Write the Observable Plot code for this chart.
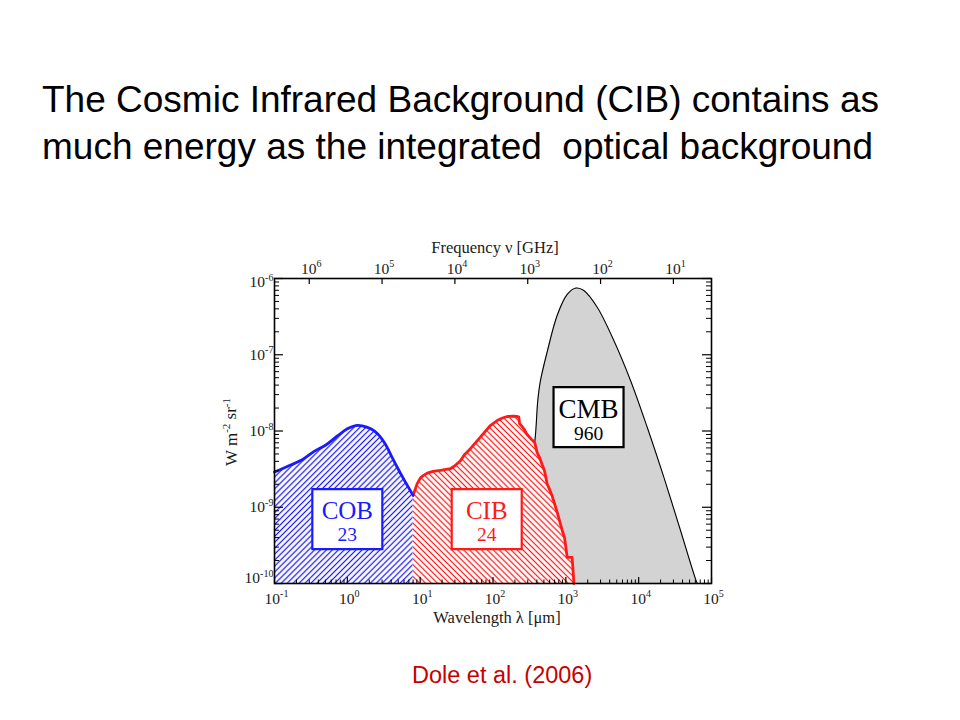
<!DOCTYPE html>
<html><head><meta charset="utf-8">
<script src="https://cdn.jsdelivr.net/npm/d3@7"></script>
<script src="https://cdn.jsdelivr.net/npm/@observablehq/plot@0.6"></script>
<style>
body{margin:0;background:#fff;}
#page{position:relative;width:960px;height:720px;overflow:hidden;background:#fff;}
#title{position:absolute;left:42px;top:76px;font-family:"Liberation Sans",Arial,sans-serif;font-size:37px;line-height:47px;color:#000;white-space:nowrap;}
#chart{position:absolute;left:0;top:220px;}
#caption{position:absolute;left:412px;top:664px;font-family:"Liberation Sans",Arial,sans-serif;font-size:23.5px;line-height:1;color:#c80000;white-space:nowrap;}
</style></head><body>
<div id="page">
<div id="title">The Cosmic Infrared Background (CIB) contains as<br>much energy as the integrated&nbsp; optical background</div>
<div id="chart"></div>
<div id="caption">Dole et al. (2006)</div>
</div>
<script>
// ---- data (wavelength in µm, νIν in W m^-2 sr^-1) ----
const cobWavelength = [0.1, 0.17, 0.25, 0.35, 0.5, 0.73, 1.0, 1.3, 1.6, 2.1, 2.6, 3.3, 3.9, 4.8, 6.0, 8.0];
const cobFlux = [2.9e-9, 3.6e-9, 4.3e-9, 5.4e-9, 6.5e-9, 8.6e-9, 1.07e-8, 1.18e-8, 1.17e-8, 1.07e-8, 9.2e-9, 6.8e-9, 5.0e-9, 3.4e-9, 2.3e-9, 1.43e-9];

const cibWavelength = [8.0, 8.6, 9.1, 10.1, 11, 12.5, 15, 19, 26, 30, 36, 40, 50, 67, 92, 114, 135, 157, 190, 215, 226, 232, 250, 265, 290, 310, 345, 375, 404, 440, 474, 510, 556, 600, 650, 750, 890, 960, 1045, 1100, 1220, 1250, 1290];
const cibFlux = [1.43e-9, 1.75e-9, 2.04e-9, 2.43e-9, 2.6e-9, 2.8e-9, 2.95e-9, 3.05e-9, 3.2e-9, 3.5e-9, 4.1e-9, 4.8e-9, 6.0e-9, 8.3e-9, 1.18e-8, 1.37e-8, 1.48e-8, 1.55e-8, 1.57e-8, 1.55e-8, 1.53e-8, 1.25e-8, 1.15e-8, 1.07e-8, 9.2e-9, 8.5e-9, 7.6e-9, 7.0e-9, 5.2e-9, 4.4e-9, 3.6e-9, 3.0e-9, 2.0e-9, 1.7e-9, 1.4e-9, 9e-10, 5.0e-10, 4.0e-10, 2.2e-10, 2.2e-10, 2.2e-10, 1.6e-10, 1.0e-10];

const cmbWavelength = [250, 300, 340, 384, 412, 449, 556, 762, 1045, 1380, 1767, 2697, 4560, 7730, 13100, 22150, 37550, 60300, 64000];
const cmbFlux = [1e-10, 8e-10, 3e-9, 9.2e-9, 2.5e-8, 4.6e-8, 1.1e-7, 3.3e-7, 6.2e-7, 7.5e-7, 6.97e-7, 4.2e-7, 1.54e-7, 4.6e-8, 1.12e-8, 2.48e-9, 4.95e-10, 1.15e-10, 1e-10];

const labelNames = ["COB", "CIB", "CMB"];
const labelEnergy = ["23", "24", "960"];
const labelWavelength = [1.0, 82, 2050];
const labelFlux = [7.0e-10, 7.0e-10, 1.52e-8];

const wavelengthTicks = [0.1, 1, 10, 100, 1e3, 1e4, 1e5];
const frequencyTicksGHz = [1e6, 1e5, 1e4, 1e3, 1e2, 1e1];
const fluxTicks = [1e-10, 1e-9, 1e-8, 1e-7, 1e-6];

const xTitle = "Wavelength \u03BB [\u03BCm]";
const topTitle = "Frequency \u03BD [GHz]";
const yTitle = "W m^-2 sr^-1";

// ---- styles ----
const colors = {COB: "#1a1aff", CIB: "#ff1a1a", CMB: "#000000"};
const serif = "'Liberation Serif', 'Times New Roman', serif";
const ink = "#1a1a1a";
const C_UM_GHZ = 299792.458; // λ[µm] = c / ν[GHz]

const cob = cobWavelength.map((w, i) => ({w, f: cobFlux[i]}));
const cib = cibWavelength.map((w, i) => ({w, f: cibFlux[i]}));
const cmb = cmbWavelength.map((w, i) => ({w, f: cmbFlux[i]}));
const labels = labelNames.map((n, i) => ({name: n, energy: labelEnergy[i], w: labelWavelength[i], f: labelFlux[i]}));

const minorOf = (majors) => {
  const out = [];
  for (let i = 0; i < majors.length - 1; i++) for (let k = 2; k <= 9; k++) out.push(majors[i] * k);
  return out;
};
const xMinor = minorOf(wavelengthTicks);
const yMinor = minorOf(fluxTicks);

const pow10 = (v) => "10^" + Math.round(Math.log10(v));

const W = 960, H = 420, mL = 274, mR = 249, mT = 58, mB = 57;
const frameW = W - mL - mR, frameH = H - mT - mB;
const yMin = 1e-10;

const boxSymbol = {draw(ctx) { ctx.rect(-35, -30, 70, 60); }};
const tickFont = 15.5;

const marks = [
  // CMB
  Plot.areaY(cmb, {x: "w", y1: yMin, y2: "f", fill: "#d3d3d3", curve: "catmull-rom", clip: true}),
  Plot.lineY(cmb, {x: "w", y: "f", stroke: "black", strokeWidth: 1.1, curve: "catmull-rom", clip: true}),
  // CIB
  Plot.areaY(cib, {x: "w", y1: yMin, y2: "f", fill: "white"}),
  Plot.areaY(cib, {x: "w", y1: yMin, y2: "f", fill: "url(#hatchRed)"}),
  Plot.lineY(cib, {x: "w", y: "f", stroke: colors.CIB, strokeWidth: 2.8, strokeLinejoin: "round"}),
  // COB
  Plot.areaY(cob, {x: "w", y1: yMin, y2: "f", fill: "white", curve: "catmull-rom"}),
  Plot.areaY(cob, {x: "w", y1: yMin, y2: "f", fill: "url(#hatchBlue)", curve: "catmull-rom"}),
  Plot.lineY(cob, {x: "w", y: "f", stroke: colors.COB, strokeWidth: 2.8, curve: "catmull-rom"}),
  // frame
  Plot.frame({stroke: "black", strokeWidth: 1.6}),
  // ticks (inward)
  Plot.ruleX(wavelengthTicks, {x: d => d, insetTop: frameH - 6, stroke: "black", strokeWidth: 1.2}),
  Plot.ruleX(xMinor, {x: d => d, insetTop: frameH - 3.5, stroke: "black", strokeWidth: 1}),
  Plot.ruleX(frequencyTicksGHz, {x: d => C_UM_GHZ / d, insetBottom: frameH - 6, stroke: "black", strokeWidth: 1.2}),
  Plot.ruleY(fluxTicks, {y: d => d, insetRight: frameW - 9, stroke: "black", strokeWidth: 1.2}),
  Plot.ruleY(yMinor, {y: d => d, insetRight: frameW - 5, stroke: "black", strokeWidth: 1}),
  Plot.ruleY(fluxTicks, {y: d => d, insetLeft: frameW - 9, stroke: "black", strokeWidth: 1.2}),
  Plot.ruleY(yMinor, {y: d => d, insetLeft: frameW - 5, stroke: "black", strokeWidth: 1}),
  // tick labels
  Plot.text(wavelengthTicks, {x: d => d, text: pow10, frameAnchor: "bottom", textAnchor: "middle", lineAnchor: "bottom", dy: 20, dx: 2, fontSize: tickFont, fill: ink}),
  Plot.text(frequencyTicksGHz, {x: d => C_UM_GHZ / d, text: pow10, frameAnchor: "top", textAnchor: "middle", lineAnchor: "bottom", dy: -5, dx: 2, fontSize: tickFont, fill: ink}),
  Plot.text(fluxTicks.slice(1, -1), {y: d => d, text: pow10, frameAnchor: "left", textAnchor: "end", lineAnchor: "middle", dx: -1, fontSize: tickFont, fill: ink}),
  Plot.text(fluxTicks.slice(0, 1), {y: d => d, text: pow10, frameAnchor: "left", textAnchor: "end", lineAnchor: "middle", dx: -1, dy: -5, fontSize: tickFont, fill: ink}),
  Plot.text(fluxTicks.slice(-1), {y: d => d, text: pow10, frameAnchor: "left", textAnchor: "end", lineAnchor: "middle", dx: -1, dy: 4, fontSize: tickFont, fill: ink}),
  // axis titles
  Plot.text([topTitle], {text: d => d, frameAnchor: "top", textAnchor: "middle", lineAnchor: "bottom", dy: -26, dx: 2, fontSize: 16.5, fill: ink}),
  Plot.text([xTitle], {text: d => d, frameAnchor: "bottom", textAnchor: "middle", lineAnchor: "bottom", dy: 39, dx: 4, fontSize: 16.5, fill: ink}),
  Plot.text([yTitle], {text: d => d, frameAnchor: "left", textAnchor: "middle", lineAnchor: "bottom", rotate: -90, dx: -38, dy: 1, fontSize: 17, fill: ink}),
];

labels.forEach(l => {
  const c = colors[l.name];
  const big = l.name === "CMB";
  marks.push(
    Plot.dot([l], {x: "w", y: "f", symbol: boxSymbol, r: 10, fill: "white", stroke: c, strokeWidth: 2.2}),
    Plot.text([l], {x: "w", y: "f", text: "name", fontSize: big ? 27 : 25, dy: big ? -8 : -8.4, fill: c}),
    Plot.text([l], {x: "w", y: "f", text: "energy", fontSize: 19.5, dy: big ? 16.7 : 16, fill: c})
  );
});

const chart = Plot.plot({
  width: W, height: H,
  marginLeft: mL, marginRight: mR, marginTop: mT, marginBottom: mB,
  x: {type: "log", domain: [0.1, 1e5], axis: null},
  y: {type: "log", domain: [1e-10, 1e-6], axis: null},
  style: {fontFamily: serif, background: "transparent", overflow: "visible"},
  marks
});

d3.select(chart).insert("defs", ":first-child").html(`
  <pattern id="hatchBlue" patternUnits="userSpaceOnUse" width="4.2" height="4.2" patternTransform="rotate(45)">
    <line x1="2.1" y1="-1" x2="2.1" y2="5.2" stroke="${colors.COB}" stroke-width="1.25"/>
  </pattern>
  <pattern id="hatchRed" patternUnits="userSpaceOnUse" width="4.2" height="4.2" patternTransform="rotate(-45)">
    <line x1="2.1" y1="-1" x2="2.1" y2="5.2" stroke="${colors.CIB}" stroke-width="1.25"/>
  </pattern>`);

// turn "^exp" into real superscript tspans
const SVGNS = "http://www.w3.org/2000/svg";
d3.select(chart).selectAll("text").each(function () {
  const parts = this.textContent.split(/\^(-?\d+)/);
  if (parts.length < 2) return;
  this.textContent = "";
  let raised = false;
  parts.forEach((p, i) => {
    if (p === "") return;
    const ts = document.createElementNS(SVGNS, "tspan");
    if (i % 2) {
      ts.setAttribute("font-size", "0.65em");
      ts.setAttribute("dy", "-0.62em");
      raised = true;
    } else if (raised) {
      ts.setAttribute("dy", "0.4em");
      raised = false;
    }
    ts.textContent = p;
    this.appendChild(ts);
  });
});

document.getElementById("chart").appendChild(chart);
</script>
</body></html>
